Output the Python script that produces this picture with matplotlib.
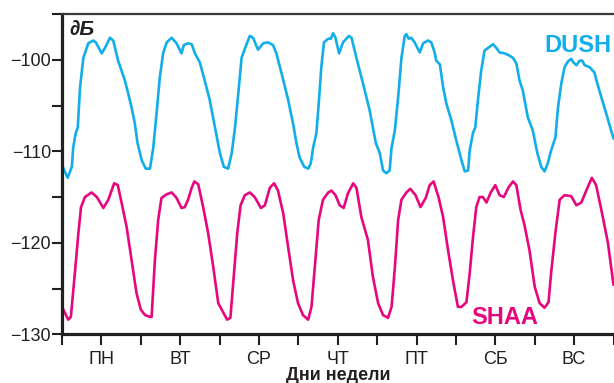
import matplotlib.pyplot as plt

# hours from the start of the week, signal level in dB
dush_hours = [0, 1.7, 3.0, 3.4, 4.2, 4.8, 5.5, 6.5, 8.0, 9.5, 10.3, 12.1, 13.1, 14.6, 15.6,
              17.1, 19.2, 21.2, 22.2, 23.0, 24.3, 25.5, 26.8, 27.8, 28.8, 29.8, 30.8, 31.9,
              33.4, 34.9, 36.4, 37.1, 38.4, 39.5, 40.5, 42.0, 43.5, 45.0, 46.6, 48.1, 49.3,
              50.6, 51.7, 52.7, 53.7, 54.7, 55.7, 57.2, 58.2, 59.7, 61.3, 62.8, 64.3, 65.3,
              66.9, 68.9, 70.4, 71.4, 72.4, 73.8, 75.0, 75.8, 76.5, 77.5, 78.2, 79.0, 79.8,
              81.1, 81.9, 82.6, 83.3, 84.4, 85.6, 87.4, 88.2, 89.7, 91.7, 93.7, 95.6, 96.8,
              97.8, 98.8, 99.8, 100.4, 101.4, 102.4, 103.4, 104.4, 104.9, 105.6, 106.4, 107.4,
              109.0, 110.0, 111.5, 112.5, 113.5, 114.0, 115.1, 116.1, 117.1, 118.6, 120.1,
              121.7, 122.7, 123.7, 124.2, 125.2, 125.9, 126.7, 127.7, 128.7, 129.8, 131.3,
              132.3, 133.3, 134.8, 136.1, 137.4, 138.4, 139.4, 140.4, 141.9, 143.4, 144.8,
              146.0, 147.0, 148.0, 149.0, 150.3, 151.1, 152.1, 153.1, 154.1, 155.1, 155.8,
              156.7, 157.7, 158.5, 159.2, 160.7, 162.2, 163.0, 164.3, 165.8, 168.0]
dush_db = [-111.5, -112.9, -111.7, -109.6, -108.0, -107.4, -103.0, -99.8, -98.2, -97.9, -98.1,
           -99.3, -98.7, -97.6, -97.9, -100.1, -102.3, -105.2, -107.0, -109.1, -111.0, -111.9,
           -111.9, -109.6, -105.9, -101.9, -99.3, -98.1, -97.6, -98.2, -99.3, -98.4, -98.2,
           -98.3, -99.3, -100.3, -102.3, -104.4, -107.4, -110.2, -111.7, -111.9, -110.2,
           -107.4, -103.7, -99.8, -98.8, -97.4, -97.6, -98.9, -98.2, -98.1, -98.4, -99.3,
           -101.5, -104.4, -107.0, -109.1, -110.7, -111.7, -111.9, -111.3, -109.6, -108.0,
           -104.8, -100.8, -98.1, -97.7, -97.7, -97.1, -97.6, -99.3, -98.1, -97.4, -97.6,
           -99.8, -102.6, -105.5, -109.1, -110.2, -112.1, -112.4, -112.1, -109.6, -107.7,
           -104.1, -99.8, -97.4, -97.2, -97.7, -97.6, -98.1, -99.2, -98.2, -97.9, -98.1,
           -99.2, -100.1, -100.5, -103.0, -104.8, -106.6, -108.8, -111.0, -112.2, -112.1,
           -109.9, -108.0, -107.4, -104.4, -101.2, -99.0, -98.7, -98.3, -98.7, -99.2, -99.3,
           -99.5, -99.8, -100.4, -102.3, -103.4, -106.3, -107.7, -110.2, -111.7, -112.2,
           -111.3, -109.9, -108.5, -105.2, -102.6, -100.8, -100.2, -99.9, -100.3, -100.6,
           -100.1, -100.1, -100.6, -100.8, -101.4, -102.5, -104.1, -105.9, -108.6]

shaa_hours = [0, 0.4, 1.9, 2.7, 4.0, 5.0, 5.8, 7.0, 9.0, 10.6, 12.6, 14.1, 15.9, 17.0, 18.2,
              19.7, 21.2, 22.7, 24.0, 25.3, 26.8, 27.3, 28.3, 29.3, 30.3, 31.9, 33.4, 34.9,
              36.4, 37.4, 38.4, 39.5, 40.3, 41.5, 43.0, 44.5, 46.1, 47.6, 49.1, 50.3, 51.3,
              52.4, 53.4, 54.4, 55.7, 57.2, 58.7, 60.6, 61.8, 63.3, 64.6, 65.8, 67.4, 68.9,
              70.4, 71.9, 73.4, 75.0, 76.0, 77.0, 78.2, 79.5, 81.1, 82.1, 83.3, 84.6, 85.8,
              87.1, 88.7, 89.7, 91.2, 93.2, 94.7, 96.3, 97.8, 99.3, 100.4, 101.4, 102.4, 103.4,
              104.9, 106.1, 107.7, 109.2, 110.8, 112.0, 113.2, 114.7, 116.1, 117.6, 119.1,
              120.6, 121.7, 123.2, 124.2, 125.2, 126.2, 127.2, 128.2, 129.3, 130.6, 132.0,
              133.3, 134.6, 136.1, 137.4, 138.4, 139.7, 140.9, 142.4, 144.0, 145.5, 147.0,
              148.2, 149.0, 150.3, 151.6, 153.1, 155.1, 156.7, 158.2, 159.7, 161.4, 162.7,
              164.3, 166.3, 168.0]
shaa_db = [-127.0, -127.3, -128.4, -128.1, -123.0, -118.9, -116.1, -115.0, -114.5, -115.0,
           -116.2, -115.3, -113.5, -113.7, -115.7, -118.3, -121.9, -125.5, -127.3, -127.9,
           -128.1, -128.1, -121.9, -117.5, -115.1, -114.7, -114.5, -115.1, -116.2, -116.1,
           -115.3, -114.0, -113.3, -113.6, -116.1, -118.9, -122.7, -126.6, -127.6, -128.4,
           -128.2, -123.3, -118.9, -115.9, -114.8, -114.5, -115.0, -116.2, -115.9, -114.0,
           -113.5, -114.3, -116.8, -120.5, -124.1, -126.6, -127.9, -128.4, -127.0, -122.7,
           -117.5, -115.3, -114.5, -114.3, -114.8, -115.9, -116.2, -114.6, -113.5, -114.0,
           -117.2, -119.7, -123.7, -126.6, -127.9, -128.2, -127.0, -122.7, -117.5, -115.3,
           -114.5, -114.1, -114.8, -116.1, -115.1, -113.7, -113.3, -115.0, -117.2, -120.8,
           -124.1, -127.0, -127.0, -126.5, -123.3, -119.4, -116.1, -115.0, -115.0, -115.6,
           -114.5, -113.7, -114.8, -115.0, -113.9, -113.3, -113.7, -116.4, -118.1, -120.8,
           -124.8, -126.6, -127.1, -126.5, -123.3, -118.9, -115.3, -114.8, -114.9, -115.9,
           -115.6, -114.3, -112.9, -113.7, -116.4, -120.0, -124.6]

days = ['ПН', 'ВТ', 'СР', 'ЧТ', 'ПТ', 'СБ', 'ВС']
y_labels = ['−130', '', '−120', '', '−110', '', '−100', '']

blue = '#11aee9'
pink = '#e6077f'
dark = '#231f20'

plt.rcParams['font.family'] = ['Liberation Sans', 'DejaVu Sans']

fig = plt.figure(figsize=(6.14, 3.83), dpi=100)
ax = fig.add_axes([62 / 614, 1 - 334.3 / 383, 551.5 / 614, (334.3 - 14) / 383])

ax.plot(dush_hours, dush_db, color=blue, lw=1.9, solid_joinstyle='round',
        solid_capstyle='round')
ax.plot(shaa_hours, shaa_db, color=pink, lw=1.9, solid_joinstyle='round',
        solid_capstyle='round')

ax.set_xlim(0, 168)
ax.set_ylim(-130, -95)

xt = list(range(0, 169, 12))
xl = []
for i in range(len(xt)):
    xl.append(days[i // 2] if i % 2 == 1 else '')
ax.set_xticks(xt)
ax.set_xticklabels(xl)
ax.set_yticks(list(range(-130, -94, 5)))
ax.set_yticklabels(y_labels)

ax.tick_params(axis='x', direction='out', length=8, width=1.5, color=dark,
               labelsize=13, labelcolor=dark, pad=4)
ax.tick_params(axis='y', direction='out', length=7, width=1.5, color=dark,
               labelsize=13, labelcolor=dark, pad=1)

for side in ['left', 'bottom']:
    ax.spines[side].set_linewidth(2.3)
    ax.spines[side].set_color(dark)
ax.spines['top'].set_linewidth(1.6)
ax.spines['top'].set_color('#3a3a3a')
ax.spines['right'].set_linewidth(0.8)
ax.spines['right'].set_color('#8a8a8a')

fig.text(69 / 614, 1 - 35 / 383, '∂Б', fontsize=15, fontweight='bold', style='italic',
         color=dark, va='baseline', ha='left')
fig.text(611 / 614, 1 - 52 / 383, 'DUSH', fontsize=17, fontweight='bold', color=blue,
         va='baseline', ha='right')
fig.text(471 / 614, 1 - 324 / 383, 'SHAA', fontsize=17, fontweight='bold', color=pink,
         va='baseline', ha='left')
fig.text(338 / 614, 1 - 379.5 / 383, 'Дни недели', fontsize=13, fontweight='bold',
         color=dark, va='baseline', ha='center')

plt.savefig('out.png', dpi=100)
